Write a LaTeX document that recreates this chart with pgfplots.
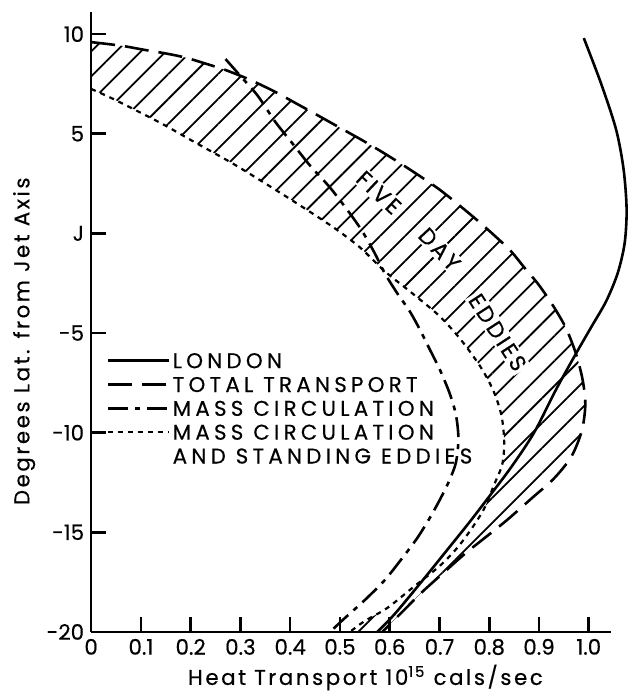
\documentclass[border=0pt]{standalone}
\usepackage{fontspec}
\setmainfont{Poppins}[FakeBold=0.4]
\newfontfamily\lsfont{Poppins}[LetterSpace=20, FakeBold=0.4]
\newfontfamily\rotfont{Poppins}[LetterSpace=12, FakeBold=0.4]
\newfontfamily\labfont{Poppins}[LetterSpace=12, FakeBold=0.4]
\usepackage{pgfplots}
\pgfplotsset{compat=1.18}
\usepgfplotslibrary{fillbetween}
\usetikzlibrary{patterns.meta}
\newcommand\bigf{\fontsize{10.7}{12.8}\selectfont}
\begin{document}
\begin{tikzpicture}
\path (-45.5bp,-29.5bp) rectangle (269bp,315.5bp);
\begin{axis}[
  at={(0,0)}, anchor=south west,
  scale only axis, width=259.4bp, height=309.4bp,
  xmin=0, xmax=1.044, ymin=-20, ymax=11.1,
  axis lines=left,
  axis line style={line width=1.3pt,-},
  clip=false,
  xtick={0,0.1,0.2,0.3,0.4,0.5,0.6,0.7,0.8,0.9,1.0},
  xticklabels={0,0.1,0.2,0.3,0.4,0.5,0.6,0.7,0.8,0.9,1.0},
  ytick={-20,-15,-10,-5,0,5,10},
  yticklabels={-20,-15,-10,-5,J,5,10},
  tick align=inside,
  major tick length=7.5bp,
  tick style={black, line width=1.3pt},
  tick label style={font=\bigf},
  xlabel={Heat Transport 10\textsuperscript{15} cals/sec},
  ylabel={Degrees Lat. from Jet Axis},
  xlabel style={at={(axis description cs:0.528,-0.0855)}, anchor=base, inner sep=0pt, text depth=0pt, font=\labfont\bigf},
  ylabel style={at={(axis description cs:-0.129,0.469)}, anchor=center, inner sep=0pt, font=\labfont\bigf},
  legend style={draw=none, fill=none, inner sep=0pt, outer sep=0pt,
    at={(axis cs:0.032,-5.95)}, anchor=north west, row sep=3.3bp,
    font=\lsfont\bigf,
    nodes={inner ysep=0.5bp, inner xsep=0pt, text height=7.6bp, text depth=0pt},
    /tikz/every odd column/.append style={column sep=1bp}},
  legend cell align=left,
  legend image code/.code={\draw[#1] (0bp,0bp) -- (30.5bp,0bp);},
]
\addplot[black, line width=1.3pt, smooth] coordinates {
(0.99,9.8) (1.025,7.5) (1.055,5.2) (1.07,3.2) (1.076,1.2) (1.072,-0.5) (1.058,-2.0)
(1.035,-3.4) (1.005,-4.7) (0.975,-6.0) (0.935,-7.8) (0.89,-10.0) (0.845,-11.7)
(0.80,-13.2) (0.76,-14.5) (0.715,-15.9) (0.66,-17.6) (0.61,-19.1) (0.575,-20)};
\addlegendentry{LONDON}
\addplot[black, line width=1.3pt, dash pattern=on 12bp off 5bp, smooth, name path=total] coordinates {
(0,9.6) (0.06,9.42) (0.105,9.22) (0.15,9.03) (0.19,8.82) (0.23,8.52) (0.27,8.2)
(0.32,7.7) (0.37,7.1) (0.41,6.55) (0.45,6.0) (0.50,5.3) (0.55,4.6) (0.60,3.85)
(0.65,3.05) (0.70,2.2) (0.75,1.2) (0.79,0.35) (0.84,-0.8) (0.87,-1.7) (0.90,-2.6)
(0.93,-3.7) (0.955,-4.8) (0.975,-6.1) (0.988,-7.4) (0.993,-8.6) (0.986,-9.9)
(0.965,-11.2) (0.93,-12.3) (0.885,-13.3) (0.835,-14.4) (0.79,-15.3) (0.75,-16.1)
(0.705,-17.1) (0.665,-18.0) (0.625,-19.0) (0.585,-20)};
\addlegendentry{TOTAL TRANSPORT}
\addplot[black, line width=1.3pt, dash pattern=on 10bp off 3.5bp on 2.5bp off 3.5bp, smooth] coordinates {
(0.27,8.75) (0.30,7.9) (0.335,6.9) (0.37,5.6) (0.405,4.5) (0.44,3.4) (0.48,2.3)
(0.52,1.0) (0.545,0.1) (0.57,-1.0) (0.59,-2.0) (0.615,-3.0) (0.64,-3.9) (0.66,-4.8)
(0.68,-5.8) (0.70,-6.8) (0.72,-8.0) (0.733,-9.1) (0.738,-10.3) (0.733,-11.5)
(0.718,-12.5) (0.70,-13.4) (0.68,-14.3) (0.655,-15.3) (0.625,-16.3) (0.59,-17.4)
(0.55,-18.4) (0.51,-19.3) (0.48,-20)};
\addlegendentry{MASS CIRCULATION}
\addplot[black, line width=1.1pt, dash pattern=on 2.5bp off 2.5bp, smooth, name path=mcse] coordinates {
(0,7.25) (0.04,6.8) (0.10,6.05) (0.15,5.4) (0.21,4.55) (0.285,3.5) (0.36,2.35)
(0.42,1.4) (0.487,0.3) (0.54,-0.7) (0.59,-1.9) (0.645,-3.0) (0.70,-4.15)
(0.745,-5.4) (0.785,-6.8) (0.81,-8.0) (0.825,-9.2) (0.83,-10.5) (0.826,-11.6)
(0.81,-12.6) (0.79,-13.8) (0.765,-14.8) (0.735,-15.8) (0.70,-16.7) (0.645,-17.8)
(0.595,-18.8) (0.55,-19.45) (0.52,-20)};
\addlegendentry{MASS CIRCULATION}
\addlegendimage{empty legend}
\addlegendentry{AND STANDING EDDIES}
\addplot[draw=none, pattern={Lines[angle=45,distance=8.8bp,line width=0.9pt]}, pattern color=black, forget plot]
  fill between[of=total and mcse];
\node[rotate=-43, font=\rotfont\fontsize{11.2}{13}\selectfont, fill=white, inner sep=1pt] at (axis cs:0.578,2.05) {FIVE};
\node[rotate=-47, font=\rotfont\fontsize{11.2}{13}\selectfont, fill=white, inner sep=1pt] at (axis cs:0.70,-0.8) {DAY};
\node[rotate=-57, font=\rotfont\fontsize{11.2}{13}\selectfont, fill=white, inner sep=1pt] at (axis cs:0.817,-4.97) {EDDIES};
\end{axis}
\end{tikzpicture}
\end{document}
